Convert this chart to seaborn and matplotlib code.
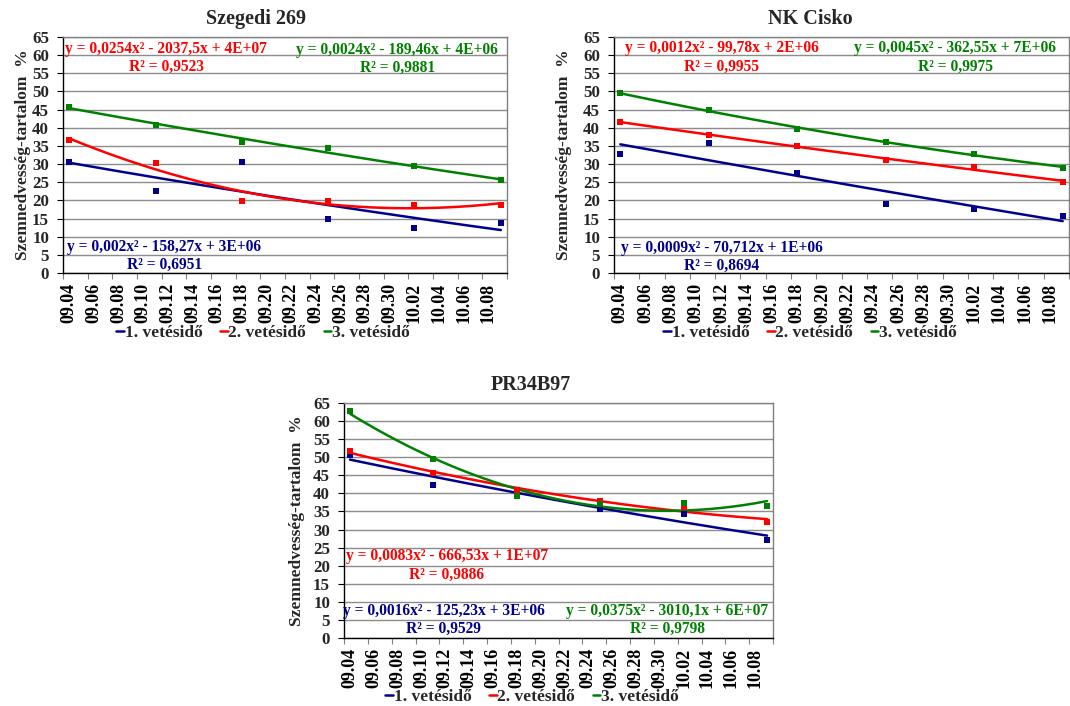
import numpy as np
import pandas as pd
import matplotlib
matplotlib.use('Agg')
import matplotlib.pyplot as plt
import seaborn as sns
from matplotlib.lines import Line2D

sns.set_theme(style='white')
plt.rcParams['font.family'] = ['Liberation Serif', 'DejaVu Serif']
plt.rcParams['font.weight'] = 'bold'

# ---------------- data ----------------
dates = ['09.04', '09.11', '09.18', '09.25', '10.02', '10.09']
xtick_labels = ['09.04', '09.06', '09.08', '09.10', '09.12', '09.14', '09.16',
                '09.18', '09.20', '09.22', '09.24', '09.26', '09.28', '09.30',
                '10.02', '10.04', '10.06', '10.08']
series_names = ['1. vetésidő', '2. vetésidő', '3. vetésidő']
colors = ['#00008B', '#FF0000', '#008000']
titles = ['Szegedi 269', 'NK Cisko', 'PR34B97']

szegedi_1 = [30.5, 22.7, 30.5, 14.8, 12.5, 13.8]
szegedi_2 = [36.7, 30.4, 19.7, 19.9, 18.7, 18.7]
szegedi_3 = [45.8, 40.8, 36.0, 34.4, 29.4, 25.5]

cisko_1 = [32.7, 35.8, 27.5, 19.1, 17.6, 15.7]
cisko_2 = [41.7, 37.9, 34.9, 31.1, 29.1, 25.1]
cisko_3 = [49.5, 44.8, 39.7, 36.0, 32.9, 29.0]

pr_1 = [50.7, 42.2, 40.6, 35.6, 34.3, 27.0]
pr_2 = [51.6, 45.6, 41.0, 37.8, 36.2, 32.2]
pr_3 = [62.7, 49.5, 39.2, 37.2, 37.3, 36.6]

eq_szegedi = ['y = 0,002x² - 158,27x + 3E+06', 'y = 0,0254x² - 2037,5x + 4E+07',
              'y = 0,0024x² - 189,46x + 4E+06']
r2_szegedi = ['R² = 0,6951', 'R² = 0,9523', 'R² = 0,9881']
eq_cisko = ['y = 0,0009x² - 70,712x + 1E+06', 'y = 0,0012x² - 99,78x + 2E+06',
            'y = 0,0045x² - 362,55x + 7E+06']
r2_cisko = ['R² = 0,8694', 'R² = 0,9955', 'R² = 0,9975']
eq_pr = ['y = 0,0016x² - 125,23x + 3E+06', 'y = 0,0083x² - 666,53x + 1E+07',
         'y = 0,0375x² - 3010,1x + 6E+07']
r2_pr = ['R² = 0,9529', 'R² = 0,9886', 'R² = 0,9798']

# ---------------- helpers ----------------
def day_offset(labels):
    d = pd.to_datetime(['2009.' + s for s in labels], format='%Y.%m.%d')
    return np.asarray((d - pd.Timestamp('2009-09-04')).days, dtype=float)

x_pts = day_offset(dates)
x_ticks = day_offset(xtick_labels)

# layout (figure fractions)
axes_rects = [
    [63 / 1070, 1 - 273 / 706, 444 / 1070, 236 / 706],
    [614 / 1070, 1 - 273 / 706, 455 / 1070, 236 / 706],
    [344 / 1070, 1 - 638 / 706, 429 / 1070, 235 / 706],
]
title_pos = [(256 / 1070, 1 - 19 / 706), (810 / 1070, 1 - 19 / 706), (531 / 1070, 1 - 385 / 706)]
legend_pos = [(263 / 1070, 1 - 333 / 706), (810 / 1070, 1 - 333 / 706), (532 / 1070, 1 - 697 / 706)]
ylabel_x = [-0.072, -0.092, -0.091]
# eq positions (axes fraction) for series 1,2,3 : (eq_x, eq_y, r2_x, r2_y)
eq_pos = [
    [(0.228, 0.110, 0.228, 0.034), (0.231, 0.949, 0.233, 0.873), (0.753, 0.945, 0.754, 0.869)],
    [(0.237, 0.106, 0.237, 0.030), (0.237, 0.953, 0.237, 0.873), (0.750, 0.953, 0.750, 0.873)],
    [(0.232, 0.116, 0.232, 0.038), (0.240, 0.350, 0.240, 0.268), (0.754, 0.116, 0.755, 0.038)],
]

datasets = [
    (szegedi_1, szegedi_2, szegedi_3, eq_szegedi, r2_szegedi),
    (cisko_1, cisko_2, cisko_3, eq_cisko, r2_cisko),
    (pr_1, pr_2, pr_3, eq_pr, r2_pr),
]

fig = plt.figure(figsize=(10.70, 7.06), dpi=100)
grid_color = '#8c8c8c'

for i, (s1, s2, s3, eqs, r2s) in enumerate(datasets):
    ax = fig.add_axes(axes_rects[i])
    ax.set_facecolor('white')
    ax.set_axisbelow(True)
    for j, vals in enumerate([s1, s2, s3]):
        df = pd.DataFrame({'x': x_pts, 'y': vals})
        coef = np.polyfit(df['x'], df['y'], 2)
        xs = np.linspace(x_pts.min(), x_pts.max(), 200)
        trend = pd.DataFrame({'x': xs, 'y': np.polyval(coef, xs)})
        sns.lineplot(data=trend, x='x', y='y', ax=ax, color=colors[j], lw=1.8,
                     zorder=3, legend=False)
        sns.scatterplot(data=df, x='x', y='y', ax=ax, color=colors[j], marker='s',
                        s=18, linewidth=0, zorder=4, legend=False)
        ex, ey, rx, ry = eq_pos[i][j]
        ax.text(ex, ey, eqs[j], transform=ax.transAxes, color=colors[j],
                fontsize=11.2, fontweight='bold', ha='center', va='center', zorder=5)
        ax.text(rx, ry, r2s[j], transform=ax.transAxes, color=colors[j],
                fontsize=11.2, fontweight='bold', ha='center', va='center', zorder=5)

    ax.set_xlim(-0.5, 35.5)
    ax.set_ylim(0, 65)
    ax.set_yticks(np.arange(0, 66, 5))
    ax.set_xticks(x_ticks)
    ax.set_xticklabels(xtick_labels, rotation=90, fontsize=13, fontweight='bold')
    ax.set_xticks(np.arange(-0.5, 36, 2), minor=True)
    ax.tick_params(axis='x', which='major', length=0, pad=7, colors='black')
    ax.tick_params(axis='x', which='minor', length=4, width=0.8, color='#808080',
                   direction='out', bottom=True)
    ax.tick_params(axis='y', which='major', length=4, width=0.8, color='black',
                   direction='out', left=True, pad=6, labelsize=12.2)
    for lab in ax.get_yticklabels():
        lab.set_fontweight('bold')
    ax.grid(axis='y', color=grid_color, lw=1.0)
    ax.grid(axis='x', visible=False)
    for side in ['left', 'bottom']:
        ax.spines[side].set_color('black')
        ax.spines[side].set_linewidth(1.0)
    for side in ['top', 'right']:
        ax.spines[side].set_color('#808080')
        ax.spines[side].set_linewidth(1.0)
    ax.set_xlabel('')
    ax.set_ylabel('Szemnedvesség-tartalom  %', fontsize=12.5, fontweight='bold')
    ax.yaxis.set_label_coords(ylabel_x[i], 0.5)

    fig.text(title_pos[i][0], title_pos[i][1], titles[i], fontsize=14.5,
             fontweight='bold', ha='center', va='center')

    handles = [Line2D([0], [0], color=c, lw=1.8) for c in colors]
    fig.legend(handles, series_names, loc='center', bbox_to_anchor=legend_pos[i],
               ncol=3, frameon=False, handlelength=0.45, handletextpad=0.05,
               columnspacing=1.0, prop={'size': 12.5, 'weight': 'bold'})

fig.savefig('out.png', dpi=100, facecolor='white')
